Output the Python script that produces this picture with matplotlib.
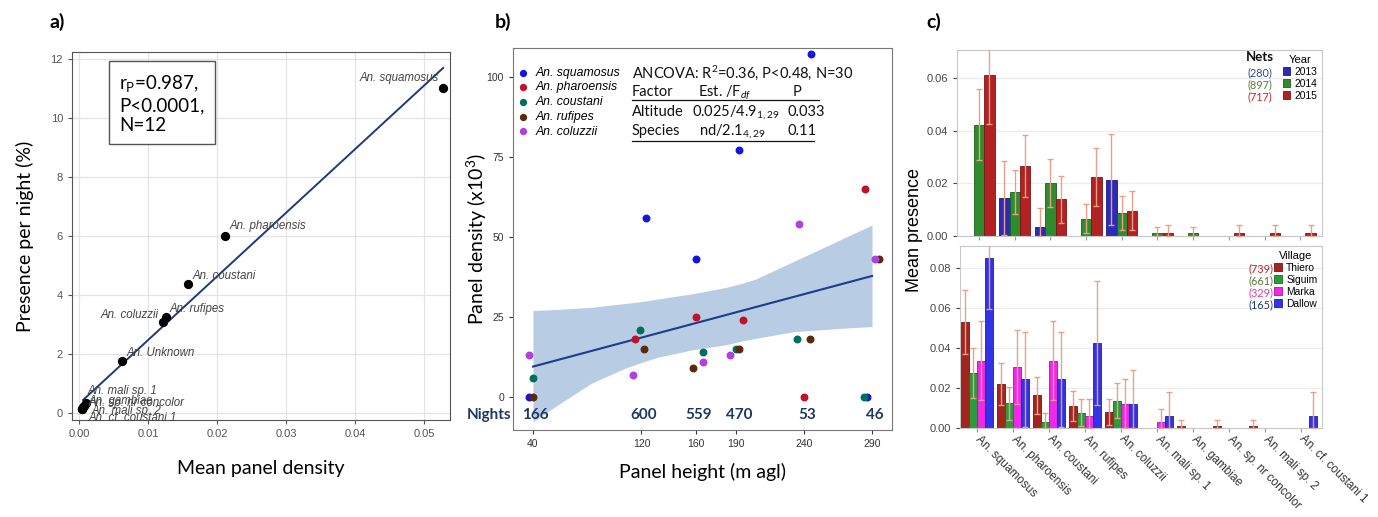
import numpy as np
import matplotlib
matplotlib.use("Agg")
import matplotlib.pyplot as plt
from matplotlib.patches import Patch

plt.rcParams['font.family'] = ['Liberation Sans', 'DejaVu Sans']
plt.rcParams['mathtext.fontset'] = 'custom'
plt.rcParams['mathtext.rm'] = 'Lato'
plt.rcParams['mathtext.it'] = 'Lato:italic'

LABFONT = 'Lato'

#-------------- Panel a data --------------
a_species = ['An. squamosus', 'An. pharoensis', 'An. coustani', 'An. rufipes', 'An. coluzzii',
             'An. Unknown', 'An. mali sp. 1', 'An. gambiae', 'An. sp. nr concolor',
             'An. mali sp. 2', 'An. cf. coustani 1']
a_density = [0.0528, 0.0212, 0.0158, 0.0126, 0.0122, 0.0063, 0.0010, 0.0008, 0.0006, 0.0004, 0.0004]
a_presence = [11.02, 6.0, 4.37, 3.25, 3.08, 1.76, 0.34, 0.25, 0.2, 0.15, 0.15]
a_fit_x = [0.0006, 0.0528]
a_fit_y = [0.44, 11.7]
# label offsets (points) and alignment
a_offsets = [(-3, 7, 'right'), (3, 7, 'left'), (3, 6, 'left'), (3, 6, 'left'), (-3, 5, 'right'),
             (3, 6, 'left'), (1.5, 8.5, 'left'), (3, 3.5, 'left'), (4, 3, 'left'), (7, -1.5, 'left'),
             (5, -7, 'left')]

#-------------- Panel b data --------------
b_species = ['An. squamosus', 'An. pharoensis', 'An. coustani', 'An. rufipes', 'An. coluzzii']
b_colors = ['#1414e0', '#c0102a', '#00705a', '#5a2a0a', '#b040e0']
b_height = [
    [37, 123, 160, 192, 245, 286],
    [115, 160, 195, 240, 285],
    [40, 119, 165, 190, 235, 284],
    [40, 122, 158, 192, 244, 295],
    [37, 114, 165, 185, 236, 292],
]
b_density = [
    [0, 56, 43, 77, 107, 0],
    [18, 25, 24, 0, 65],
    [6, 21, 14, 15, 18, 0],
    [0, 15, 9, 15, 18, 43],
    [13, 7, 11, 13, 54, 43],
]
b_fit_x = [40, 290]
b_fit_y = [9.5, 37.8]
band_x = [40, 60, 83, 108, 120, 132, 157, 182, 194, 204, 232, 269, 290]
band_hi = [27.0, 27.4, 28.0, 29.2, 29.8, 30.6, 32.2, 34.2, 35.5, 36.8, 42.3, 49.6, 53.7]
band_lo = [-7.7, -2.0, 4.3, 9.0, 10.8, 12.4, 14.7, 16.3, 17.5, 18.3, 20.4, 21.5, 22.0]
heights = [40, 120, 160, 190, 240, 290]
nights = ['166', '600', '559', '470', '53', '46']

#-------------- Panel c data --------------
c_species = ['An. squamosus', 'An. pharoensis', 'An. coustani', 'An. rufipes', 'An. coluzzii',
             'An. mali sp. 1', 'An. gambiae', 'An. sp. nr concolor', 'An. mali sp. 2', 'An. cf. coustani 1']
years = ['2013', '2014', '2015']
year_nets = ['(280)', '(897)', '(717)']
year_mean = [
    [0, 0.0143, 0.0035, 0, 0.0214, 0, 0, 0, 0, 0],
    [0.0422, 0.0167, 0.0201, 0.0066, 0.0088, 0.0010, 0.0010, 0, 0, 0],
    [0.0612, 0.0265, 0.0139, 0.0223, 0.0096, 0.0013, 0, 0.0013, 0.0013, 0.0013],
]
year_upper = [
    [0, 0.0283, 0.0107, 0, 0.0386, 0, 0, 0, 0, 0],
    [0.0557, 0.0252, 0.0293, 0.0121, 0.0152, 0.0033, 0.0033, 0, 0, 0],
    [0.0800, 0.0383, 0.0228, 0.0333, 0.0171, 0.0040, 0, 0.0040, 0.0040, 0.0040],
]
villages = ['Thiero', 'Siguim', 'Marka', 'Dallow']
village_nets = ['(739)', '(661)', '(329)', '(165)']
village_mean = [
    [0.0529, 0.0219, 0.0164, 0.0111, 0.0081, 0, 0.0013, 0.0013, 0.0013, 0],
    [0.0274, 0.0124, 0.0033, 0.0078, 0.0138, 0, 0, 0, 0, 0],
    [0.0337, 0.0307, 0.0337, 0.0060, 0.0123, 0.0033, 0, 0, 0, 0],
    [0.0847, 0.0244, 0.0244, 0.0426, 0.0123, 0.0061, 0, 0, 0, 0.0061],
]
village_upper = [
    [0.0690, 0.0323, 0.0257, 0.0186, 0.0148, 0, 0.0041, 0.0041, 0.0041, 0],
    [0.0398, 0.0207, 0.0075, 0.0144, 0.0227, 0, 0, 0, 0, 0],
    [0.0532, 0.0491, 0.0532, 0.0148, 0.0244, 0.0095, 0, 0, 0, 0],
    [0.1100, 0.0481, 0.0481, 0.0736, 0.0292, 0.0182, 0, 0, 0, 0.0182],
]
year_colors = ['#2b2bb5', '#2e8b2e', '#b22222']
year_edges = ['#1a1a80', '#1d5e1d', '#7a1515']
year_txt = ['#2f4c8f', '#5a7a3c', '#d0202a']
village_colors = ['#a0261f', '#2e9b3a', '#f028e8', '#3333e6']
village_edges = ['#6e1812', '#1d6a26', '#a01a9a', '#2020a0']
village_txt = ['#c0202a', '#5a7a3c', '#e040a0', '#1f3c7a']

fig = plt.figure(figsize=(13.78, 5.17), dpi=100)

#-------------- a) --------------
ax1 = fig.add_axes([0.0523, 0.1876, 0.2743, 0.7118])
ax1.grid(True, color='#e4e4e4', lw=0.9)
ax1.set_axisbelow(True)
ax1.plot(a_fit_x, a_fit_y, color='#1f3a7a', lw=1.4, zorder=2)
ax1.scatter(a_density, a_presence, s=32, color='black', zorder=3)
for name, x, y, (dx, dy, ha) in zip(a_species, a_density, a_presence, a_offsets):
    ax1.annotate(name, (x, y), xytext=(dx, dy), textcoords='offset points', ha=ha, va='center',
                 fontsize=8.3, style='italic', color='#444444')
ax1.set_xlim(-0.001, 0.0538)
ax1.set_ylim(-0.24, 12.24)
ax1.set_xticks([0, 0.01, 0.02, 0.03, 0.04, 0.05])
ax1.set_xticklabels(['0.00', '0.01', '0.02', '0.03', '0.04', '0.05'])
ax1.set_yticks([0, 2, 4, 6, 8, 10, 12])
ax1.tick_params(labelsize=8, colors='#555555', length=3)
for s in ax1.spines.values():
    s.set_color('#555555')
ax1.set_xlabel('Mean panel density', fontfamily=LABFONT, fontsize=14, labelpad=15)
ax1.set_ylabel('Presence per night (%)', fontfamily=LABFONT, fontsize=14, labelpad=12)
ax1.text(0.125, 0.942, 'r$_\\mathrm{P}$=0.987,\nP<0.0001,\nN=12', transform=ax1.transAxes,
         fontfamily=LABFONT, fontsize=13.5, va='top', ha='left', linespacing=1.2,
         bbox=dict(boxstyle='square,pad=0.55', fc='white', ec='#555555', lw=1))
fig.text(0.036, 0.957, 'a)', fontfamily=LABFONT, fontsize=14, fontweight='bold', va='center')

#-------------- b) --------------
ax2 = fig.add_axes([0.3723, 0.1683, 0.2750, 0.7389])
ax2.fill_between(band_x, band_lo, band_hi, color='#b8cce4', lw=0, zorder=1)
ax2.plot(b_fit_x, b_fit_y, color='#1f3c88', lw=1.5, zorder=2)
handles = []
for name, col, xs, ys in zip(b_species, b_colors, b_height, b_density):
    h = ax2.scatter(xs, ys, s=22, color=col, zorder=3, label=name)
    handles.append(h)
ax2.legend(handles=handles, loc='upper left', bbox_to_anchor=(-0.025, 0.97), frameon=False,
           prop={'style': 'italic', 'size': 8.8}, handletextpad=0.0, labelspacing=0.22,
           borderaxespad=0.2, markerscale=0.9)
ax2.set_xlim(25.3, 304.7)
ax2.set_ylim(-10.3, 109)
ax2.set_xticks(heights)
ax2.set_yticks([0, 25, 50, 75, 100])
ax2.tick_params(labelsize=7.5, colors='#333333', length=3)
for s in ax2.spines.values():
    s.set_color('#777777')
ax2.set_xlabel('Panel height (m agl)', fontfamily=LABFONT, fontsize=14, labelpad=10)
ax2.set_ylabel('Panel density (x10$^3$)', fontfamily=LABFONT, fontsize=14, labelpad=-2)
for hx, n in zip(heights, nights):
    ax2.text(hx + 2, -5.6, n, ha='center', va='center', fontfamily=LABFONT, fontsize=11,
             fontweight='bold', color='#203864')
ax2.text(7.6, -5.6, 'Nights', ha='center', va='center', fontfamily=LABFONT, fontsize=11,
         fontweight='bold', color='#203864', clip_on=False)
tf = dict(fontfamily=LABFONT, fontsize=10.5, va='center', ha='left', color='#111111')
ax2.text(113, 101.3, 'ANCOVA: R$^2$=0.36, P<0.48, N=30', **tf)
ax2.text(113, 95.3, 'Factor', **tf)
ax2.text(161.7, 95.3, 'Est. /F$_{df}$', **tf)
ax2.text(231.7, 95.3, 'P', **tf)
ax2.text(113, 89.0, 'Altitude', **tf)
ax2.text(157, 89.0, '0.025/4.9$_{1,29}$', **tf)
ax2.text(228, 89.0, '0.033', **tf)
ax2.text(113, 83.0, 'Species', **tf)
ax2.text(162.5, 83.0, 'nd/2.1$_{4,29}$', **tf)
ax2.text(228, 83.0, '0.11', **tf)
ax2.plot([113, 251], [92.6, 92.6], color='#111111', lw=0.9)
ax2.plot([113, 247], [80.0, 80.0], color='#111111', lw=0.9)
fig.text(0.359, 0.957, 'b)', fontfamily=LABFONT, fontsize=14, fontweight='bold', va='center')

#-------------- c) --------------
xpos = np.arange(len(c_species))


def bar_panel(ax, means, uppers, colors, edges, width):
    k = len(means)
    for i in range(k):
        off = (i - (k - 1) / 2) * width
        m = np.array(means[i])
        u = np.array(uppers[i])
        ax.bar(xpos + off, m, width=width, color=colors[i], edgecolor=edges[i], lw=0.6, zorder=2)
        sel = u > 0
        err = u[sel] - m[sel]
        ax.errorbar(xpos[sel] + off, m[sel], yerr=[np.minimum(err, m[sel]), err], fmt='none',
                    ecolor='#e8a088', elinewidth=1, capsize=2.5, capthick=1, zorder=3)
    ax.grid(True, axis='y', color='#ececec', lw=0.9)
    ax.set_axisbelow(True)
    for s in ax.spines.values():
        s.set_color('#c8c8c8')
    ax.tick_params(labelsize=8, colors='#444444', length=3)
    ax.tick_params(axis='x', color='#999999')


leg_kw = dict(loc='upper right', frameon=False, fontsize=7.4, title_fontsize=8,
              handlelength=0.75, handleheight=0.75, handletextpad=0.4, labelspacing=0.2,
              borderaxespad=0.25, borderpad=0.2)

ax3 = fig.add_axes([0.6945, 0.5435, 0.2649, 0.3598])
bar_panel(ax3, year_mean, year_upper, year_colors, year_edges, 0.29)
ax3.set_xlim(-0.616, 9.61)
ax3.set_ylim(0, 0.0706)
ax3.set_yticks([0, 0.02, 0.04, 0.06])
ax3.set_yticklabels(['0.00', '0.02', '0.04', '0.06'])
ax3.set_xticks(xpos)
ax3.set_xticklabels([])
ax3.legend(handles=[Patch(fc=c, ec=e, lw=0.6) for c, e in zip(year_colors, year_edges)], labels=years,
           title='Year', bbox_to_anchor=(1.0, 1.0), **leg_kw)
ax3.text(0.83, 0.962, 'Nets', transform=ax3.transAxes, ha='center', va='center',
         fontfamily=LABFONT, fontsize=9.5, fontweight='bold', color='#111111')
for i, (t, c) in enumerate(zip(year_nets, year_txt)):
    ax3.text(0.83, 0.877 - 0.064 * i, t, transform=ax3.transAxes, ha='center', va='center',
             fontfamily=LABFONT, fontsize=7.8, color=c)

ax4 = fig.add_axes([0.6967, 0.1716, 0.2627, 0.3526])
bar_panel(ax4, village_mean, village_upper, village_colors, village_edges, 0.22)
ax4.set_xlim(-0.48, 9.59)
ax4.set_ylim(0, 0.0908)
ax4.set_yticks([0, 0.02, 0.04, 0.06, 0.08])
ax4.set_yticklabels(['0.00', '0.02', '0.04', '0.06', '0.08'])
ax4.set_xticks(xpos)
ax4.set_xticklabels(c_species, rotation=-45, ha='left', va='center', rotation_mode='anchor',
                    fontsize=8.5, color='#333333')
ax4.legend(handles=[Patch(fc=c, ec=e, lw=0.6) for c, e in zip(village_colors, village_edges)],
           labels=villages, title='Village', bbox_to_anchor=(1.0, 1.0), **leg_kw)
for i, (t, c) in enumerate(zip(village_nets, village_txt)):
    ax4.text(0.83, 0.875 - 0.065 * i, t, transform=ax4.transAxes, ha='center', va='center',
             fontfamily=LABFONT, fontsize=7.8, color=c)

fig.text(0.664, 0.556, 'Mean presence', rotation=90, ha='center', va='center',
         fontfamily='Liberation Sans', fontsize=13)
fig.text(0.672, 0.957, 'c)', fontfamily=LABFONT, fontsize=14, fontweight='bold', va='center')

fig.savefig('out.png', dpi=100)
